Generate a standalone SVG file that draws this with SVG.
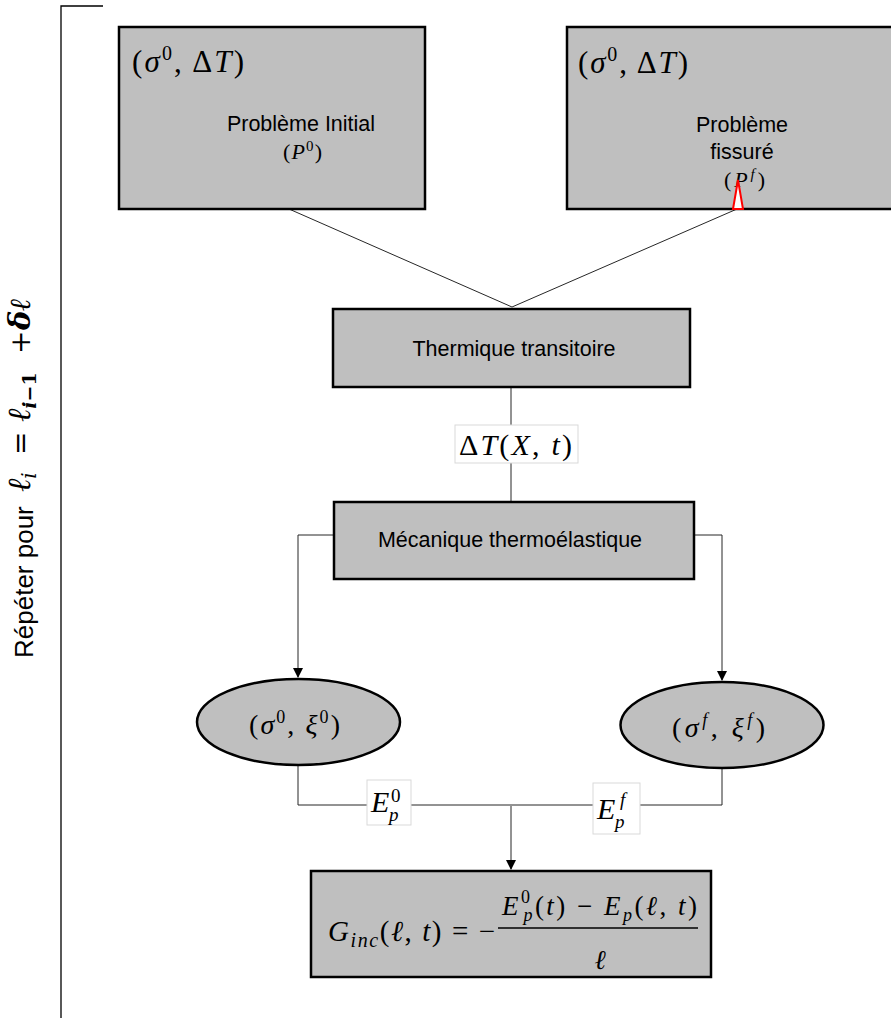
<svg xmlns="http://www.w3.org/2000/svg" width="891" height="1019" viewBox="0 0 891 1019">
<style>
.box{fill:#bfbfbf;stroke:#000;stroke-width:2.5}
.ln{fill:none;stroke:#262626;stroke-width:1}
.sans{font-family:"Liberation Sans",Arial,sans-serif;fill:#000}
.m{font-family:"Liberation Serif","DejaVu Serif",serif;fill:#000}
.d{font-family:"DejaVu Serif","Liberation Serif",serif;fill:#000}
.i{font-style:italic}
.lbl{fill:#fff;stroke:#d9d9d9;stroke-width:1}
</style>
<defs>
<marker id="arr" markerWidth="10" markerHeight="10" refX="9" refY="5" orient="auto" markerUnits="userSpaceOnUse">
<path d="M0,0 L10,5 L0,10 z" fill="#000"/>
</marker>
</defs>
<rect width="891" height="1019" fill="#fff"/>

<g id="bracket">
<path d="M103,6 H61 V1018" fill="none" stroke="#000" stroke-width="1.3"/>
</g>

<g id="repeat-label" transform="translate(33,0) rotate(-90)">
<text x="-658" y="0" class="sans" font-size="26">Répéter pour</text>
<text x="-492" y="-3" class="d i" font-size="32">ℓ<tspan font-size="20" dy="6">i</tspan></text>
<text x="-455" y="-3" class="d" font-size="28">=</text>
<text x="-422" y="-3" class="d i" font-size="32">ℓ<tspan font-size="19" font-weight="bold" dy="6">i</tspan><tspan font-size="19" font-style="normal" font-weight="bold">−1</tspan></text>
<text x="-354" y="-3" class="d" font-size="28">+</text>
<text x="-330" y="-3" class="d i" font-size="29" font-weight="bold">δℓ</text>
</g>

<g id="connectors">
<path class="ln" d="M289,209 L512,307 L737,209"/>
<path class="ln" d="M511,388 V502"/>
<path class="ln" d="M334,535 H298 V677" marker-end="url(#arr)"/>
<path class="ln" d="M694,535 H722 V680" marker-end="url(#arr)"/>
<path class="ln" d="M298,765 V805 H722 V768"/>
<path class="ln" d="M511,806 V869" marker-end="url(#arr)"/>
</g>

<g id="node-initial">
<rect class="box" x="119" y="27" width="306" height="182"/>
<text x="132" y="72" class="m" font-size="31" textLength="112" lengthAdjust="spacing">(<tspan class="i">σ</tspan><tspan font-size="20" dy="-12">0</tspan><tspan dy="12">, Δ</tspan><tspan class="i">T</tspan>)</text>
<text x="301" y="131" text-anchor="middle" class="sans" font-size="21.5">Problème Initial</text>
<text x="283" y="159" class="m" font-size="22" textLength="39" lengthAdjust="spacing">(<tspan class="i">P</tspan><tspan font-size="15" dy="-8">0</tspan><tspan dy="8">)</tspan></text>
</g>

<g id="node-fissure">
<rect class="box" x="567" y="27" width="330" height="182"/>
<text x="578" y="73" class="m" font-size="31" textLength="110" lengthAdjust="spacing">(<tspan class="i">σ</tspan><tspan font-size="20" dy="-12">0</tspan><tspan dy="12">, Δ</tspan><tspan class="i">T</tspan>)</text>
<text x="742" y="132" text-anchor="middle" class="sans" font-size="21.5">Problème</text>
<text x="742" y="159" text-anchor="middle" class="sans" font-size="21.5">fissuré</text>
<text x="724" y="187" class="m" font-size="22" textLength="41" lengthAdjust="spacing">(<tspan class="i">P</tspan><tspan class="i" font-size="15" dy="-8">f</tspan><tspan dy="8">)</tspan></text>
<path d="M738,180 L733,209 L743,209 Z" fill="#fff" stroke="#ff0000" stroke-width="2"/>
</g>

<g id="node-thermique">
<rect class="box" x="333" y="309" width="357" height="78"/>
<text x="514" y="356" text-anchor="middle" class="sans" font-size="21.5">Thermique transitoire</text>
</g>

<g id="label-dT">
<rect class="lbl" x="455" y="425" width="123" height="38"/>
<text x="459" y="455" class="m" font-size="30" textLength="113" lengthAdjust="spacing">Δ<tspan class="i">T</tspan>(<tspan class="i">X</tspan>, <tspan class="i">t</tspan>)</text>
</g>

<g id="node-mecanique">
<rect class="box" x="334" y="502" width="360" height="77"/>
<text x="510" y="547" text-anchor="middle" class="sans" font-size="21.5">Mécanique thermoélastique</text>
</g>

<g id="node-sigma0">
<ellipse class="box" cx="298.5" cy="722" rx="101.5" ry="43"/>
<text x="249" y="734" class="m" font-size="28" textLength="91" lengthAdjust="spacing">(<tspan class="i">σ</tspan><tspan font-size="18" dy="-11">0</tspan><tspan dy="11">, </tspan><tspan class="i">ξ</tspan><tspan font-size="18" dy="-11">0</tspan><tspan dy="11">)</tspan></text>
</g>

<g id="node-sigmaf">
<ellipse class="box" cx="722" cy="725" rx="101.5" ry="43"/>
<text x="672" y="737" class="m" font-size="28" textLength="93" lengthAdjust="spacing">(<tspan class="i">σ</tspan><tspan class="i" font-size="18" dy="-11">f</tspan><tspan dy="11">, </tspan><tspan class="i">ξ</tspan><tspan class="i" font-size="18" dy="-11">f</tspan><tspan dy="11">)</tspan></text>
</g>

<g id="label-Ep0">
<rect class="lbl" x="367" y="780" width="44" height="45"/>
<text x="371" y="812" class="m i" font-size="30">E</text>
<text x="391" y="802" class="m" font-size="19">0</text>
<text x="389" y="821" class="m i" font-size="19">p</text>
</g>

<g id="label-Epf">
<rect class="lbl" x="593" y="783" width="47" height="51"/>
<text x="597" y="819" class="m i" font-size="30">E</text>
<text x="620" y="806" class="m i" font-size="19">f</text>
<text x="615" y="828" class="m i" font-size="19">p</text>
</g>

<g id="node-formula">
<rect class="box" x="311" y="871" width="400" height="106"/>
<text x="328" y="941" class="m" font-size="29" textLength="167" lengthAdjust="spacing"><tspan class="i">G</tspan><tspan class="i" font-size="20" dy="6">inc</tspan><tspan dy="-6">(</tspan><tspan class="i">ℓ</tspan>, <tspan class="i">t</tspan>) = −</text>
<text x="502" y="915" class="m" font-size="27" textLength="195" lengthAdjust="spacing"><tspan class="i">E</tspan><tspan font-size="18" dy="-12">0</tspan><tspan class="i" font-size="18" dx="-9" dy="18">p</tspan><tspan dy="-6">(</tspan><tspan class="i">t</tspan>) − <tspan class="i">E</tspan><tspan class="i" font-size="18" dy="6">p</tspan><tspan dy="-6">(</tspan><tspan class="i">ℓ</tspan>, <tspan class="i">t</tspan>)</text>
<line x1="498" y1="928" x2="698" y2="928" stroke="#000" stroke-width="1.5"/>
<text x="600" y="969" text-anchor="middle" class="m i" font-size="27">ℓ</text>
</g>
</svg>
